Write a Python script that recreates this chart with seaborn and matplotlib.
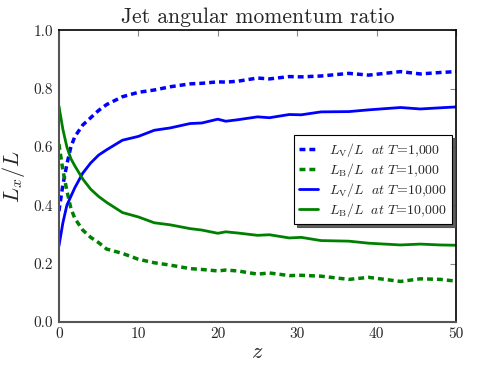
import matplotlib
matplotlib.use("Agg")
import matplotlib.pyplot as plt
import seaborn as sns
import pandas as pd

z = [0, 0.5, 1, 1.5, 2, 3, 4, 5, 6, 8, 10, 12, 14, 16.5, 18, 20, 21, 22.5,
     25, 26.5, 29, 30.5, 33, 36.5, 39, 43, 45.5, 48, 50]
lv_1000 = [0.38, 0.47, 0.54, 0.60, 0.635, 0.675, 0.70, 0.725, 0.745, 0.772,
           0.787, 0.795, 0.806, 0.816, 0.818, 0.823, 0.822, 0.825, 0.836,
           0.833, 0.841, 0.840, 0.843, 0.852, 0.846, 0.858, 0.850, 0.855, 0.858]
lb_1000 = [0.61, 0.52, 0.45, 0.39, 0.355, 0.315, 0.29, 0.272, 0.25, 0.235,
           0.215, 0.203, 0.195, 0.183, 0.180, 0.175, 0.178, 0.175, 0.164,
           0.168, 0.159, 0.160, 0.157, 0.146, 0.153, 0.139, 0.148, 0.146, 0.140]
lv_10000 = [0.26, 0.34, 0.40, 0.43, 0.46, 0.51, 0.545, 0.572, 0.59, 0.623,
            0.636, 0.657, 0.665, 0.680, 0.682, 0.695, 0.688, 0.693, 0.703,
            0.700, 0.711, 0.710, 0.720, 0.721, 0.727, 0.735, 0.730, 0.734, 0.737]
lb_10000 = [0.74, 0.66, 0.60, 0.56, 0.535, 0.49, 0.455, 0.43, 0.41, 0.375,
            0.36, 0.34, 0.333, 0.320, 0.315, 0.304, 0.309, 0.305, 0.297,
            0.299, 0.288, 0.290, 0.279, 0.277, 0.270, 0.264, 0.267, 0.264, 0.263]
labels = [r'$L_{\rm V}/L\ \ at\ T\!=\!1{,}000$',
          r'$L_{\rm B}/L\ \ at\ T\!=\!1{,}000$',
          r'$L_{\rm V}/L\ \ at\ T\!=\!10{,}000$',
          r'$L_{\rm B}/L\ \ at\ T\!=\!10{,}000$']

sns.set_style("white")
plt.rcParams['font.family'] = ['cmr10', 'DejaVu Serif']
plt.rcParams['mathtext.fontset'] = 'cm'
plt.rcParams['axes.unicode_minus'] = False
plt.rcParams['axes.formatter.use_mathtext'] = True

fig = plt.figure(figsize=(4.91, 3.68), dpi=100)
ax = fig.add_axes([0.120, 0.125, 0.809, 0.793])

series = [(lv_1000, 'b', '--'), (lb_1000, 'g', '--'),
          (lv_10000, 'b', '-'), (lb_10000, 'g', '-')]
for (vals, col, ls), lab in zip(series, labels):
    df = pd.DataFrame({'z': z, 'v': vals})
    lw = 2.5 if ls == '--' else 2.0
    sns.lineplot(data=df, x='z', y='v', ax=ax, color=col, linestyle=ls,
                 linewidth=lw, label=lab)

for ln in ax.lines[:2]:
    ln.set_dashes([1.7, 1.15])

ax.set_xlim(0, 50)
ax.set_ylim(0, 1.0)
ax.set_xticks([0, 10, 20, 30, 40, 50])
ax.set_yticks([0.0, 0.2, 0.4, 0.6, 0.8, 1.0])
ax.set_xticklabels(['0', '10', '20', '30', '40', '50'])
ax.set_yticklabels(['0.0', '0.2', '0.4', '0.6', '0.8', '1.0'])
ax.tick_params(direction='in', length=4, width=0.8, color='#888888',
               labelsize=11, top=True, right=True, pad=4)
ax.set_xlabel(r'$z$', fontsize=16, labelpad=1)
ax.set_ylabel(r'$L_x/L$', fontsize=16, labelpad=5)
ax.set_title('Jet angular momentum ratio', fontsize=15.5, pad=5)

for s in ['left', 'bottom']:
    ax.spines[s].set_color('#555555')
    ax.spines[s].set_linewidth(1.5)
for s in ['top', 'right']:
    ax.spines[s].set_color('black')
    ax.spines[s].set_linewidth(1.2)

leg = ax.legend(loc='upper right', bbox_to_anchor=(0.99, 0.64), fontsize=10,
                frameon=True, fancybox=False,
                shadow={'color': '0.3', 'alpha': 0.9},
                handlelength=1.3, borderpad=0.38, labelspacing=0.15,
                handletextpad=0.8, borderaxespad=0)
leg.get_frame().set_edgecolor('black')
leg.get_frame().set_linewidth(0.8)
leg.get_frame().set_alpha(1)

fig.savefig('out.png', dpi=100)
